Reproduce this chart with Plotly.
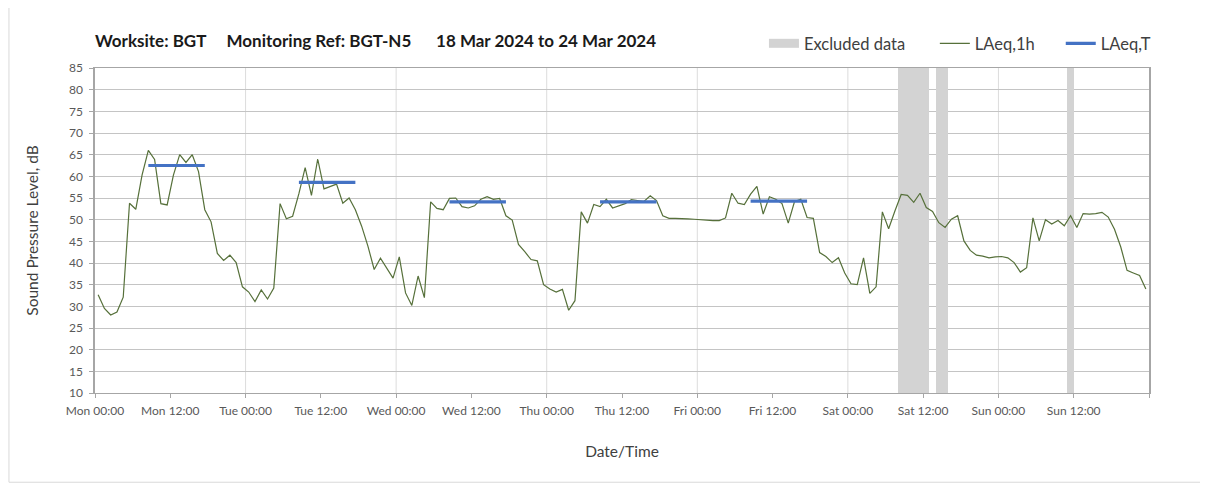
import pandas as pd
import plotly.graph_objects as go

# ---------------- data ----------------
start_time = "2024-03-18 00:30"   # first hourly value (hour centre)

mon = [32.7, 29.5, 28.0, 28.7, 32.1, 53.8, 52.4, 60.3, 66.0, 63.9, 53.7, 53.4,
       60.3, 65.0, 63.2, 65.0, 61.1, 52.3, 49.5, 42.2, 40.6, 41.8, 40.1, 34.5]
tue = [33.3, 31.1, 33.8, 31.7, 34.2, 53.7, 50.2, 50.8, 56.0, 62.0, 55.6, 64.0,
       57.1, 57.6, 58.2, 53.8, 55.0, 52.3, 48.5, 43.9, 38.5, 41.1, 38.7, 36.5]
wed = [41.4, 33.1, 30.2, 37.0, 32.0, 54.1, 52.6, 52.3, 54.9, 55.0, 53.0, 52.7,
       53.2, 54.7, 55.3, 54.7, 54.9, 50.9, 49.9, 44.3, 42.6, 40.8, 40.5, 35.0]
thu = [34.0, 33.3, 33.9, 29.1, 31.3, 51.8, 49.2, 53.5, 53.0, 54.7, 52.7, 53.2,
       53.7, 54.6, 54.4, 54.2, 55.5, 54.4, 50.9, 50.3, 50.3, 50.3, 50.2, 50.1]
fri = [50.0, 49.8, 49.8, 49.8, 50.4, 56.1, 53.8, 53.5, 55.9, 57.7, 51.3, 55.3,
       54.7, 53.7, 49.2, 54.2, 54.7, 50.5, 50.3, 42.4, 41.5, 40.1, 41.2, 37.7]
sat = [35.2, 35.0, 41.2, 33.0, 34.5, 51.8, 47.9, 52.0, 55.8, 55.6, 54.0, 56.1,
       52.8, 51.9, 49.3, 48.2, 50.1, 50.9, 45.1, 42.9, 41.8, 41.6, 41.2, 41.4]
sun = [41.5, 41.2, 40.1, 37.9, 38.9, 50.4, 45.1, 50.0, 49.0, 49.8, 48.6, 50.9,
       48.2, 51.4, 51.3, 51.4, 51.7, 50.6, 47.8, 43.7, 38.3, 37.7, 37.1, 34.0]

# LAeq,T daytime periods
laeqT_start = ["2024-03-18 08:30", "2024-03-19 08:30", "2024-03-20 08:30",
               "2024-03-21 08:30", "2024-03-22 08:30"]
laeqT_end = ["2024-03-18 17:30", "2024-03-19 17:30", "2024-03-20 17:30",
             "2024-03-21 17:30", "2024-03-22 17:30"]
laeqT_value = [62.5, 58.6, 54.1, 54.1, 54.3]

# Excluded data periods
excl_start = ["2024-03-23 08:00", "2024-03-23 14:00", "2024-03-24 11:00"]
excl_end = ["2024-03-23 13:00", "2024-03-23 16:00", "2024-03-24 12:00"]

# Axis
x_start = "2024-03-18 00:00"
x_end = "2024-03-25 00:00"
y_min, y_max, y_step = 10, 85, 5
day_names = ["Mon", "Tue", "Wed", "Thu", "Fri", "Sat", "Sun"]
hour_labels = ["00:00", "12:00"]

NB = "\u00a0"
title_text = ("Worksite: BGT" + NB * 5 + "Monitoring Ref: BGT-N5" + NB * 6 +
              "18 Mar 2024 to 24 Mar 2024")

# ---------------- build ----------------
levels = mon + tue + wed + thu + fri + sat + sun
times = pd.date_range(start_time, periods=len(levels), freq="h")

tx, ty = [], []
for s, e, v in zip(laeqT_start, laeqT_end, laeqT_value):
    tx += [s, e, None]
    ty += [v, v, None]

es = pd.to_datetime(excl_start)
ee = pd.to_datetime(excl_end)
excl_mid = es + (ee - es) / 2
excl_w = [(b - a).total_seconds() * 1000 for a, b in zip(es, ee)]

tick_vals = pd.date_range(x_start, x_end, freq="12h")
tick_text = [f"{d} {h}" for d in day_names for h in hour_labels] + [""]
day_lines = pd.date_range(x_start, x_end, freq="D")[1:-1]

FONT = "Lato, 'Open Sans', sans-serif"
GREY_TXT = "#404040"
EXCL_COLOR = "#d3d3d3"

# figure geometry (page has an 8px body margin)
W, H = 1200, 476
L, R, T, B = 86.6, 58.7, 60.4, 90.7
pw, ph = W - L - R, H - T - B


def px_to_paper_x(px):
    return (px - L) / pw


def px_to_paper_y(py):
    return (H - B - py) / ph


fig = go.Figure()
fig.add_trace(go.Bar(
    x=excl_mid, y=[y_max - y_min] * len(excl_mid), base=y_min, width=excl_w,
    marker=dict(color=EXCL_COLOR, line=dict(width=0)),
    name="Excluded data", showlegend=False, hoverinfo="skip"))
# legend entry for excluded data (wide grey bar symbol)
fig.add_trace(go.Scatter(
    x=[None], y=[None], mode="lines", name="Excluded data",
    line=dict(color=EXCL_COLOR, width=9), legend="legend"))
fig.add_trace(go.Scatter(
    x=times, y=levels, mode="lines", name="LAeq,1h",
    line=dict(color="#56703a", width=1.2), legend="legend2"))
fig.add_trace(go.Scatter(
    x=tx, y=ty, mode="lines", name="LAeq,T",
    line=dict(color="#4472c4", width=3.2), legend="legend3"))

shapes = []
for d in day_lines:
    shapes.append(dict(type="line", xref="x", yref="paper", x0=d, x1=d, y0=0, y1=1,
                       line=dict(color="#dcdcdc", width=1), layer="below"))
# outer chart border (left and bottom edges visible in window)
shapes.append(dict(type="line", xref="paper", yref="paper",
                   x0=px_to_paper_x(0.5), x1=px_to_paper_x(0.5),
                   y0=px_to_paper_y(0), y1=px_to_paper_y(474.5),
                   line=dict(color="#d9d9d9", width=1), layer="below"))
shapes.append(dict(type="line", xref="paper", yref="paper",
                   x0=px_to_paper_x(0.5), x1=px_to_paper_x(W),
                   y0=px_to_paper_y(474.5), y1=px_to_paper_y(474.5),
                   line=dict(color="#d9d9d9", width=1), layer="below"))

leg_common = dict(orientation="h", yanchor="middle", y=px_to_paper_y(36),
                  xanchor="left", font=dict(size=16.5, color=GREY_TXT),
                  bgcolor="rgba(0,0,0,0)", itemwidth=30)

fig.update_layout(
    width=W, height=H,
    margin=dict(l=L, r=R, t=T, b=B, autoexpand=False),
    paper_bgcolor="white", plot_bgcolor="white",
    font=dict(family=FONT, color=GREY_TXT),
    barmode="overlay", bargap=0,
    shapes=shapes,
    showlegend=True,
    legend=dict(x=px_to_paper_x(756), **leg_common),
    legend2=dict(x=px_to_paper_x(927), **leg_common),
    legend3=dict(x=px_to_paper_x(1053), **leg_common),
    title=dict(text=f"<b>{title_text}</b>", x=87 / W, xanchor="left",
               y=1 - 33 / H, yanchor="middle",
               font=dict(size=17, color="#1a1a1a", family=FONT)),
)

fig.update_xaxes(
    type="date", range=[x_start, x_end],
    tickvals=tick_vals, ticktext=tick_text,
    tickfont=dict(size=12, color="#595959"),
    ticks="outside", ticklen=4, tickcolor="#a6a6a6", ticklabelstandoff=3,
    showgrid=False, showline=True, linecolor="#a6a6a6", linewidth=1, mirror=True,
    zeroline=False,
    title=dict(text="Date/Time", font=dict(size=15.5, color=GREY_TXT), standoff=28),
)
fig.update_yaxes(
    range=[y_min, y_max], tick0=y_min, dtick=y_step,
    tickfont=dict(size=12, color="#595959"),
    ticks="outside", ticklen=4, tickcolor="#a6a6a6", ticklabelstandoff=4,
    showgrid=True, gridcolor="#c4c4c4", gridwidth=1,
    showline=True, linecolor="#a6a6a6", linewidth=1.5, mirror=True,
    zeroline=False,
    title=dict(text="Sound Pressure Level, dB", font=dict(size=15.5, color=GREY_TXT),
               standoff=27),
)

fig.write_html("out.html")
